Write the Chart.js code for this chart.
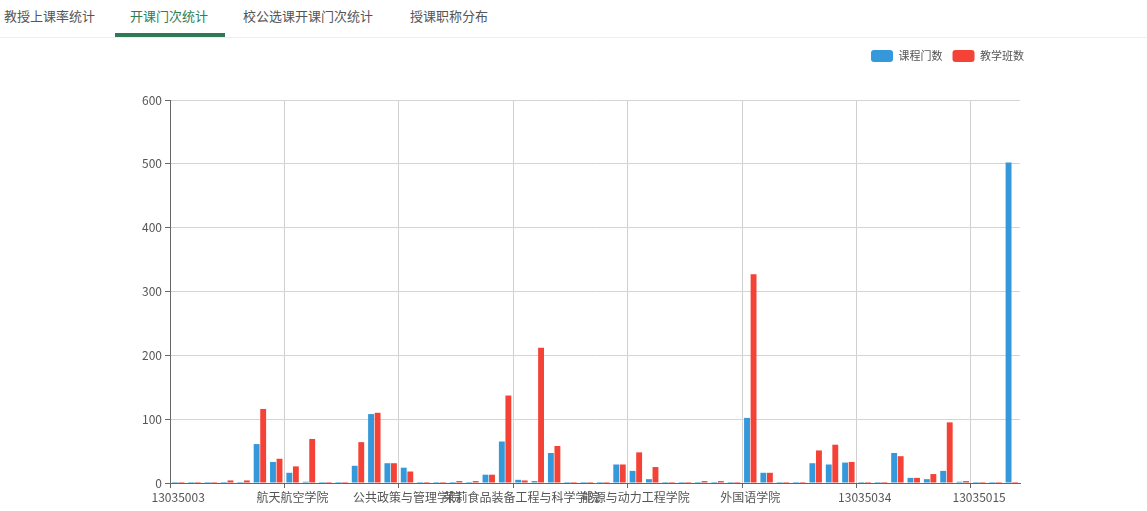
<!DOCTYPE html>
<html>
<head>
<meta charset="utf-8">
<script src="https://cdn.jsdelivr.net/npm/chart.js@4/dist/chart.umd.min.js"></script>
<style>
  body { margin: 0; background: #fff; font-family: "Noto Sans CJK SC", sans-serif; }
  .tabs { position: relative; width: 1147px; height: 37px; border-bottom: 1px solid #eee; }
  .tab { position: absolute; top: 6px; font-size: 13px; color: #555; }
  .tab.active { color: #2e7d55; }
  .underline { position: absolute; left: 115px; top: 33px; width: 110px; height: 4px; background: #2f7a55; }
</style>
</head>
<body>
<div class="tabs">
  <span class="tab" style="left:4px">教授上课率统计</span>
  <span class="tab active" style="left:130px">开课门次统计</span>
  <span class="tab" style="left:243px">校公选课开课门次统计</span>
  <span class="tab" style="left:410px">授课职称分布</span>
  <div class="underline"></div>
</div>
<canvas id="chart" width="1147" height="473"></canvas>
<script>
// only every 7th category name is shown on the axis, the rest can't be read
const categories = [
  "13035003", "", "", "", "", "", "",
  "航天航空学院", "", "", "", "", "", "",
  "公共政策与管理学院", "", "", "", "", "", "",
  "茉莉食品装备工程与科学学院", "", "", "", "", "", "",
  "能源与动力工程学院", "", "", "", "", "", "",
  "外国语学院", "", "", "", "", "", "",
  "13035034", "", "", "", "", "", "",
  "13035015", "", ""
];

const courseCount = [
  0, 0, 0, 0, 0, 61, 33, 16, 2, 0, 0, 27, 108, 31, 24, 0, 0, 0, 0, 13,
  65, 5, 3, 47, 0, 0, 0, 29, 19, 6, 0, 0, 0, 0, 0, 102, 16, 0, 0, 31,
  29, 32, 0, 0, 47, 8, 6, 19, 2, 0, 0, 502
];

const classCount = [
  0, 0, 0, 4, 4, 116, 38, 26, 69, 1, 1, 64, 110, 31, 18, 1, 1, 3, 3, 13,
  137, 4, 212, 58, 1, 1, 1, 29, 48, 25, 1, 1, 3, 3, 1, 327, 16, 1, 1, 51,
  60, 33, 1, 1, 42, 8, 14, 95, 3, 1, 1, 0
];

const yTicks = [0, 100, 200, 300, 400, 500, 600];

Chart.defaults.font.family = '"Noto Sans CJK SC", sans-serif';
Chart.defaults.color = "#555";

// push the plot down below the legend, and nudge the legend to the right
const legendGap = {
  id: "legendGap",
  beforeInit(chart) {
    const fit = chart.legend.fit;
    chart.legend.fit = function () {
      fit.call(this);
      this.height += 28;
    };
  },
  afterLayout(chart) {
    chart.legend.left += 14;
    chart.legend.right += 14;
  }
};

const every7 = (on, off) => (c) => (c.index % 7 === 0 ? on : off);

new Chart(document.getElementById("chart"), {
  type: "bar",
  data: {
    labels: categories,
    datasets: [
      { label: "课程门数", data: courseCount, backgroundColor: "#3498db", minBarLength: 1 },
      { label: "教学班数", data: classCount, backgroundColor: "#f44336", minBarLength: 1 }
    ]
  },
  options: {
    responsive: false,
    animation: false,
    layout: { padding: { top: 2, right: 127, left: 0, bottom: 0 } },
    plugins: {
      legend: {
        align: "end",
        labels: {
          boxWidth: 22,
          boxHeight: 12,
          useBorderRadius: true,
          borderRadius: 3,
          padding: 10,
          font: { size: 11 },
          color: "#555"
        }
      },
      tooltip: { enabled: false }
    },
    scales: {
      x: {
        grid: {
          color: every7("#d0d0d0", "rgba(0,0,0,0)"),
          tickColor: every7("#666", "rgba(0,0,0,0)"),
          tickLength: 5
        },
        border: { color: "#666" },
        ticks: { autoSkip: false, maxRotation: 0, minRotation: 0, padding: 2, font: { size: 12 } },
        afterFit: (s) => { s.height = 28; }
      },
      y: {
        min: 0,
        max: 600,
        afterBuildTicks: (s) => { s.ticks = yTicks.map((v) => ({ value: v })); },
        grid: { color: "#d4d4d4", tickColor: "#666", tickLength: 5 },
        border: { color: "#666" },
        ticks: { padding: 3, font: { size: 12 } },
        afterFit: (s) => { s.width = 170; }
      }
    }
  },
  plugins: [legendGap]
});
</script>
</body>
</html>
